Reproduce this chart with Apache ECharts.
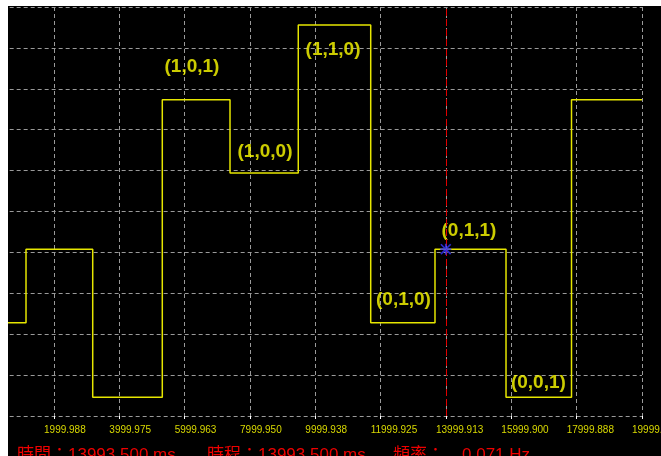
<!DOCTYPE html>
<html>
<head>
<meta charset="utf-8">
<script src="https://cdn.jsdelivr.net/npm/echarts@6/dist/echarts.min.js"></script>
<style>
  html, body { margin: 0; padding: 0; background: #fff; }
  #scope { width: 661px; height: 456px; }
</style>
</head>
<body>
<div id="scope"></div>
<script>
// x ticks (ms) and their printed labels
const tickStep = 1999.9875;
const tickLabels = ["1999.988", "3999.975", "5999.963", "7999.950", "9999.938",
  "11999.925", "13999.913", "15999.900", "17999.888", "19999.875"];

// step signal: time where each level starts (ms) and the level (grid units)
const edgeMs = [592, 1143, 3185, 5315, 7388, 9478, 11695, 13663, 15837, 17842, 19999.875];
const levels = [2.28, 4.08, 0.46, 7.73, 5.94, 9.56, 2.28, 4.08, 0.46, 7.73, 7.73];

// state annotations
const stateNames = ["(1,0,1)", "(1,0,0)", "(1,1,0)", "(0,1,0)", "(0,1,1)", "(0,0,1)"];
const stateMs = [6224, 8459, 10541, 12698, 14703, 16827];
const stateLevel = [8.53, 6.45, 8.95, 2.84, 4.53, 0.82];

// cursor readout
const cursorMs = 13993.5;
const cursorLevel = 4.08;
const periodMs = 13993.5;
const freqHz = 0.071;

const gridDash = { color: "#9a9a9a", width: 1, type: [4, 3] };
const starPath = "path://M4.2,0H5.8V10H4.2Z M0,4.2H10V5.8H0Z M1.1,0L10,8.9L8.9,10L0,1.1Z M8.9,0L10,1.1L1.1,10L0,8.9Z";
const redFont = "17px 'Liberation Sans', 'Noto Sans CJK TC', sans-serif";

const chart = echarts.init(document.getElementById("scope"));

const option = {
  animation: false,
  backgroundColor: "#000",
  grid: {
    left: -11.33,
    right: 19,
    top: 7,
    bottom: 40,
    containLabel: false,
    outerBoundsMode: "none",
  },
  xAxis: {
    type: "value",
    min: 0,
    max: 19999.875,
    interval: tickStep,
    axisLine: { show: false },
    axisTick: { show: true, length: 3, lineStyle: { color: "#fff" } },
    axisLabel: {
      showMinLabel: false,
      showMaxLabel: true,
      align: "left",
      padding: [0, 0, 0, -10],
      margin: 9,
      color: "#d8d800",
      fontSize: 10,
      fontFamily: "Liberation Sans Narrow, Arial Narrow, Liberation Sans, sans-serif",
      formatter: (v) => tickLabels[Math.round(v / tickStep) - 1] || "",
    },
    splitLine: { show: true, lineStyle: gridDash },
  },
  yAxis: {
    type: "value",
    position: "right",
    min: 0,
    max: 10,
    interval: 1,
    axisLine: { show: false },
    axisTick: { show: true, inside: false, length: 11, lineStyle: { color: "#fff" } },
    axisLabel: { show: false },
    splitLine: { show: true, lineStyle: gridDash },
  },
  series: [
    {
      type: "line",
      step: "end",
      showSymbol: false,
      lineStyle: { color: "#e6e600", width: 1.5 },
      data: edgeMs.map((t, i) => [t, levels[i]]),
      markLine: {
        silent: true,
        symbol: "none",
        label: { show: false },
        lineStyle: { color: "#e00000", width: 1, type: [7, 3] },
        data: [{ xAxis: cursorMs }],
      },
      z: 3,
    },
    {
      type: "scatter",
      symbol: starPath,
      symbolSize: 11,
      itemStyle: { color: "#3535ff" },
      data: [[cursorMs, cursorLevel]],
      z: 5,
    },
    {
      type: "scatter",
      symbolSize: 1,
      itemStyle: { color: "rgba(0,0,0,0)" },
      label: {
        show: true,
        position: "inside",
        formatter: "{b}",
        color: "#ffff00",
        fontSize: 19,
        fontWeight: "bold",
        fontFamily: "Liberation Sans, Arial, sans-serif",
      },
      data: stateNames.map((n, i) => ({ name: n, value: [stateMs[i], stateLevel[i]] })),
      z: 4,
    },
  ],
  graphic: [
    { type: "rect", left: 0, top: 0, shape: { width: 8, height: 456 }, style: { fill: "#fff" }, z: 100 },
    { type: "rect", left: 0, top: 0, shape: { width: 661, height: 6 }, style: { fill: "#fff" }, z: 100 },
    {
      type: "text", x: 17, y: 455, z: 100,
      style: { text: "時間：" + periodMs.toFixed(3) + " ms", fill: "#ee0000", font: redFont, verticalAlign: "middle" },
    },
    {
      type: "text", x: 207, y: 455, z: 100,
      style: { text: "時程：" + cursorMs.toFixed(3) + " ms", fill: "#ee0000", font: redFont, verticalAlign: "middle" },
    },
    {
      type: "text", x: 393, y: 455, z: 100,
      style: { text: "頻率：", fill: "#ee0000", font: redFont, verticalAlign: "middle" },
    },
    {
      type: "text", x: 462, y: 455, z: 100,
      style: { text: freqHz.toFixed(3) + " Hz", fill: "#ee0000", font: redFont, verticalAlign: "middle" },
    },
  ],
};

chart.setOption(option);

window.addEventListener("resize", () => {
  chart.resize();
});
</script>
</body>
</html>
